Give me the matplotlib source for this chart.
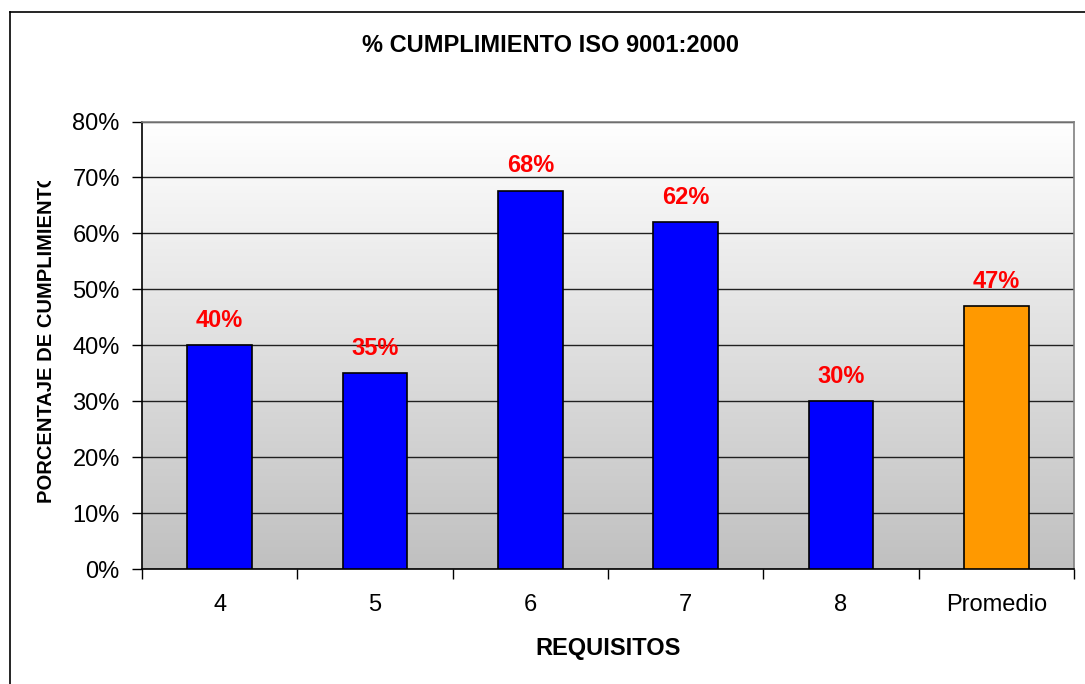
import numpy as np
import matplotlib
matplotlib.use("Agg")
import matplotlib.pyplot as plt
from matplotlib.transforms import Bbox, TransformedBbox
from matplotlib.lines import Line2D

plt.rcParams['font.family'] = ['Liberation Sans', 'DejaVu Sans']

# data
categories = ['4', '5', '6', '7', '8', 'Promedio']
cumplimiento = [0.40, 0.35, 0.676, 0.62, 0.30, 0.47]
bar_colors = ['#0000FF', '#0000FF', '#0000FF', '#0000FF', '#0000FF', '#FF9900']
y_ticks = [0, 0.1, 0.2, 0.3, 0.4, 0.5, 0.6, 0.7, 0.8]

W, H = 1085, 684
fig = plt.figure(figsize=(W / 100, H / 100), dpi=100)
fig.patch.set_facecolor('white')

ax = fig.add_axes([142 / W, 1 - 569 / H, (1074 - 142) / W, (569 - 121.5) / H])
x = np.arange(len(categories))

# gradient background (white -> silver)
grad = np.linspace(1.0, 0.0, 256).reshape(-1, 1)
ax.imshow(grad, extent=[-0.5, len(categories) - 0.5, 0, 0.8], aspect='auto',
          cmap=matplotlib.colors.LinearSegmentedColormap.from_list('g', ['#C0C0C0', '#FFFFFF']),
          zorder=0, origin='upper')

ax.bar(x, cumplimiento, width=0.415, color=bar_colors, edgecolor='black',
       linewidth=1.2, zorder=3)

for xi, v in zip(x, cumplimiento):
    ax.annotate(f"{v:.0%}", (xi, v), xytext=(0, 18), textcoords='offset points',
                ha='center', va='center', color='#FF0000', fontsize=17,
                fontweight='bold', zorder=4)

ax.set_xlim(-0.5, len(categories) - 0.5)
ax.set_ylim(0, 0.8)
ax.set_yticks(y_ticks)
ax.set_yticklabels([f"{t:.0%}" for t in y_ticks], fontsize=17)
ax.yaxis.grid(True, color='#202020', linewidth=1.0, zorder=1)
ax.set_axisbelow(True)

ax.set_xticks(x)
ax.set_xticklabels(categories, fontsize=17)
ax.set_xticks(np.arange(len(categories) + 1) - 0.5, minor=True)
ax.tick_params(axis='x', which='major', length=0, pad=18)
ax.tick_params(axis='x', which='minor', length=7, width=1, direction='out', color='black')
ax.tick_params(axis='y', length=7, width=1, direction='out', pad=9)

ax.spines['top'].set_color('#808080')
ax.spines['right'].set_color('#808080')
ax.spines['left'].set_color('black')
ax.spines['bottom'].set_color('black')
for s in ax.spines.values():
    s.set_linewidth(1.2)

fig.text(551 / W, 1 - 45 / H, "% CUMPLIMIENTO ISO 9001:2000", ha='center', va='center',
         fontsize=17, fontweight='bold')
fig.text(608 / W, 1 - 648 / H, "REQUISITOS", ha='center', va='center',
         fontsize=17, fontweight='bold')

ylab = fig.text(47 / W, 1 - 503 / H, "PORCENTAJE DE CUMPLIMIENTO", rotation=90,
                ha='center', va='bottom', fontsize=14.5, fontweight='bold')
ylab.set_clip_box(TransformedBbox(Bbox([[0, 0], [1, 1 - 181 / H]]), fig.transFigure))
ylab.set_clip_on(True)

# chart frame (left and top edge visible)
fig.add_artist(Line2D([10 / W, 10 / W], [0, 1 - 12 / H], transform=fig.transFigure,
                      color='black', linewidth=1.2))
fig.add_artist(Line2D([10 / W, 1], [1 - 12 / H, 1 - 12 / H], transform=fig.transFigure,
                      color='black', linewidth=1.2))

fig.savefig("out.png", dpi=100)
